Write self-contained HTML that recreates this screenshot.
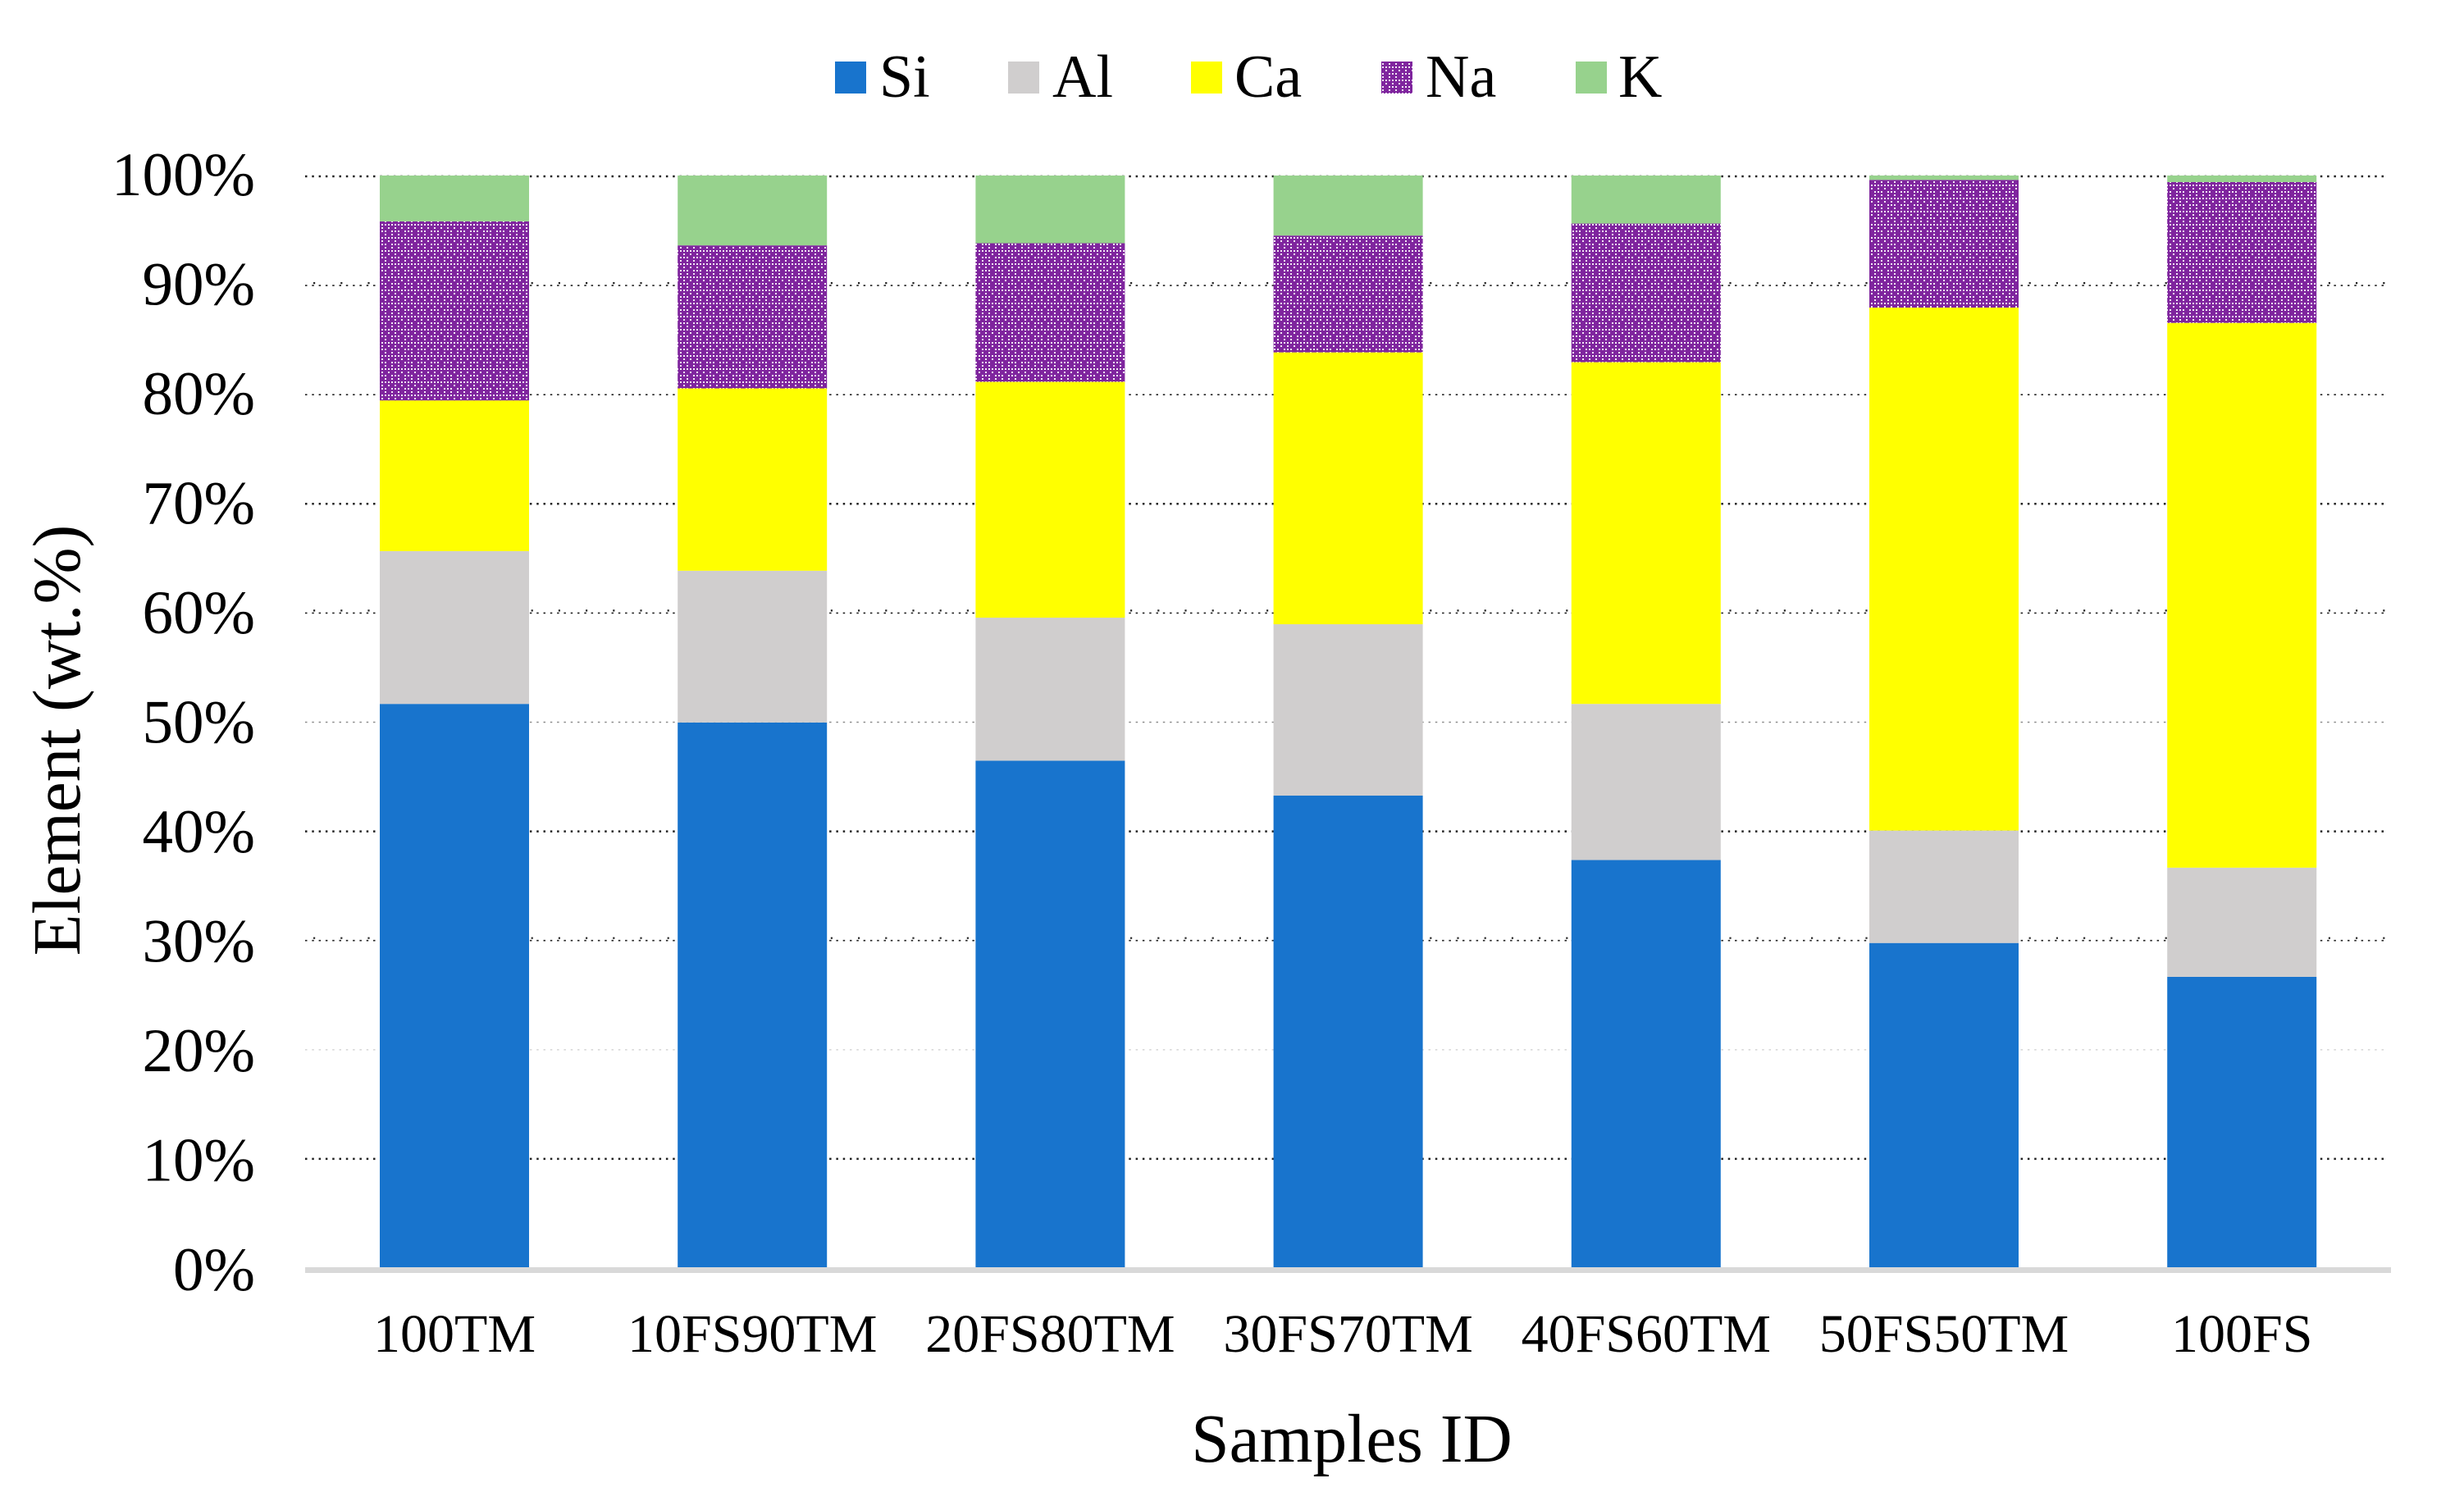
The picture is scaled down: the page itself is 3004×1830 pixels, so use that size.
<!DOCTYPE html>
<html lang="en">
<head>
<meta charset="utf-8">
<title>Element composition by sample</title>
<style>
html,body{margin:0;padding:0;background:#fff;}
svg{display:block;}
text{font-family:"Liberation Serif","Times New Roman",serif;fill:#000;}
</style>
</head>
<body>
<svg id="chart" xmlns="http://www.w3.org/2000/svg" width="3004" height="1830" viewBox="0 0 3004 1830">
<defs>
<pattern id="na-pattern" width="16" height="16" patternUnits="userSpaceOnUse" shape-rendering="crispEdges">
<rect width="16" height="16" fill="#7f259e"/>
<g fill="#f0e6f4">
<rect x="1" y="1" width="2" height="2"/><rect x="5" y="1" width="2" height="2"/><rect x="9" y="1" width="2" height="2"/><rect x="13" y="1" width="2" height="2"/>
<rect x="1" y="5" width="2" height="2"/><rect x="9" y="5" width="2" height="2"/>
<rect x="1" y="9" width="2" height="2"/><rect x="5" y="9" width="2" height="2"/><rect x="13" y="9" width="2" height="2"/>
<rect x="5" y="13" width="2" height="2"/><rect x="13" y="13" width="2" height="2"/>
</g>
</pattern>
</defs>
<g id="grid"></g>
<g id="bars"></g>
<rect x="372" y="1545" width="2543" height="7" fill="#d9d9d9"/>
<g id="yticks"></g>
<g id="xticks"></g>
<g id="legend"></g>
<text x="1648" y="1782" font-size="83.4" text-anchor="middle">Samples ID</text>
<text transform="translate(97,902.5) rotate(-90)" font-size="83" text-anchor="middle">Element (wt.%)</text>
</svg>
<script>
var categories = ['100TM','10FS90TM','20FS80TM','30FS70TM','40FS60TM','50FS50TM','100FS'];
var seriesNames = ['Si','Al','Ca','Na','K'];
var si = [51.6,49.9,46.4,43.2,37.3,29.7,26.6];
var al = [14.0,13.9,13.1,15.7,14.3,10.3,10.0];
var ca = [13.8,16.7,21.6,24.9,31.3,47.9,49.9];
var na = [16.4,13.1,12.7,10.7,12.7,11.7,12.9];
var k  = [4.2,6.4,6.2,5.5,4.4,0.4,0.6];
var yTicks = [0,10,20,30,40,50,60,70,80,90,100];

var NS = 'http://www.w3.org/2000/svg';
var seriesValues = [si, al, ca, na, k];
var seriesFills = ['#1874cd','#d0cece','#ffff00','url(#na-pattern)','#97d28d'];
var plotLeft = 372.4, plotRight = 2914.8, plotTop = 214, plotBottom = 1545, barWidth = 182;

function yScale(v){ return plotBottom - (v / 100) * (plotBottom - plotTop); }
function xCenter(i){ return plotLeft + (i + 0.5) * (plotRight - plotLeft) / categories.length; }
function make(tag, attrs, parent){
  var el = document.createElementNS(NS, tag);
  for (var key in attrs) el.setAttribute(key, attrs[key]);
  parent.appendChild(el);
  return el;
}

var gridG = document.getElementById('grid');
var yTickG = document.getElementById('yticks');
yTicks.forEach(function(t){
  if (t > 0) {
    var y = yScale(t) + 1;
    var kind = t % 30;
    var color = t === 50 ? '#8c8c8c' : (t === 20 ? '#d8d8d8' : '#222');
    var line = make('line', {x1:372, x2:2910, y1:y, y2:y, stroke:color,
      'stroke-width': kind === 10 && t !== 100 ? 2.5 : (t === 100 ? 2.5 : 1.6), 'stroke-dasharray':'2.5 5.8'}, gridG);
    
    
    if (t === 90 || t === 60 || t === 30) {
      var extra = make('line', {x1:382, x2:2910, y1:y-3, y2:y-3, stroke:'#222', 'stroke-width':2.2, 'stroke-dasharray':'2.2 31'}, gridG);
      
      
    }
  }
  var label = make('text', {x:311, y:yScale(t) + 24 + (100 - t) * 0.04, 'font-size':75, 'text-anchor':'end'}, yTickG);
  label.textContent = t + '%';
  
  
});

var barsG = document.getElementById('bars');
categories.forEach(function(cat, i){
  var cumulative = 0;
  seriesValues.forEach(function(values, s){
    var top = cumulative + values[i];
    var bar = make('rect', {x:xCenter(i) - barWidth / 2, y:yScale(Math.min(top,100)),
      width:barWidth, height:yScale(cumulative) - yScale(Math.min(top,100)), fill:seriesFills[s]}, barsG);
    
    
    cumulative = top;
  });
});

var xTickG = document.getElementById('xticks');
categories.forEach(function(cat, i){
  var label = make('text', {x:xCenter(i), y:1648, 'font-size':66, 'text-anchor':'middle'}, xTickG);
  label.textContent = cat;
  
  
});

var legendG = document.getElementById('legend');
var legendSwatchX = [1018,1229,1452,1684,1921];
var legendTextX = [1072,1283,1505,1738,1973];
seriesNames.forEach(function(name, s){
  var swatch = make('rect', {x:legendSwatchX[s], y:75, width:38, height:39, fill:seriesFills[s]}, legendG);
  
  
  var text = make('text', {x:legendTextX[s], y:118, 'font-size':74}, legendG);
  text.textContent = name;
  
  
});
</script>
</body>
</html>
